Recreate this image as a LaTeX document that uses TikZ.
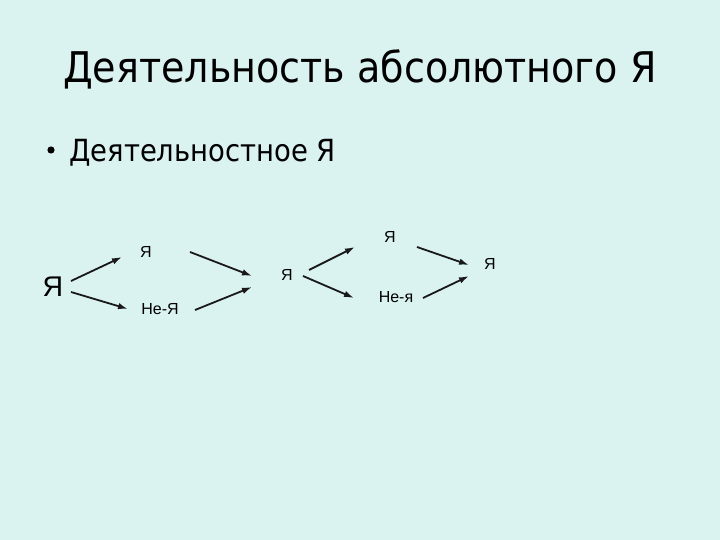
\documentclass[tikz,border=0pt]{standalone}
\usepackage{fontspec}
\setmainfont{Liberation Sans}
\newfontfamily\titlefont{DejaVu Sans Condensed}
\usetikzlibrary{arrows.meta,calc}
\definecolor{bgc}{RGB}{218,242,240}
\tikzset{
  lbl/.style={inner sep=0pt, font=\fontsize{16}{16}\selectfont},
  arr/.style={-{Latex[length=10pt,width=6.5pt]}, line width=1.8pt, black!90},
}
\begin{document}
\begin{tikzpicture}[x=1pt,y=-1pt]
\fill[bgc] (0,0) rectangle (720,540);
\useasboundingbox (0,0) rectangle (720,540);
% title
\node[anchor=base, inner sep=0pt, font=\titlefont\fontsize{42.3}{42.3}\selectfont] (title) at (360,83) {Деятельность абсолютного Я};
% bullet
\fill (51,150) circle (3.6) coordinate (dot);
\node[anchor=base west, inner sep=0pt, font=\titlefont\fontsize{30.5}{30.5}\selectfont] (sub) at (69,162) {Деятельностное Я};
% diagram nodes
\node[inner sep=0pt, font=\fontsize{28.5}{28.5}\selectfont] (ya0) at (53,287) {Я};
\node[lbl] (ya1) at (146,252) {Я};
\node[lbl] (nya1) at (160,309) {Не-Я};
\node[lbl] (ya2) at (287,275) {Я};
\node[lbl] (ya3) at (390,237) {Я};
\node[lbl] (nya3) at (396,297) {Не-я};
\node[lbl] (ya4) at (490,264) {Я};
% arrows
\draw[arr] ($(ya0)+(18,-6)$) -- ($(ya1)+(-24,5)$);
\draw[arr] ($(ya0)+(18,5)$) -- ($(nya1)+(-32,0)$);
\draw[arr] ($(ya1)+(44,0)$) -- ($(ya2)+(-35,1)$);
\draw[arr] ($(nya1)+(35,1)$) -- ($(ya2)+(-35,12)$);
\draw[arr] ($(ya2)+(22,-5)$) -- ($(ya3)+(-35,10)$);
\draw[arr] ($(ya2)+(16,1)$) -- ($(nya3)+(-42,1)$);
\draw[arr] ($(ya3)+(27,10)$) -- ($(ya4)+(-21,1)$);
\draw[arr] ($(nya3)+(27,1)$) -- ($(ya4)+(-21,12)$);
\end{tikzpicture}
\end{document}
